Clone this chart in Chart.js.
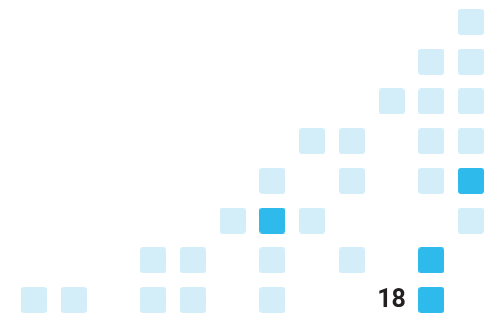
<!DOCTYPE html>
<html>
<head>
<meta charset="utf-8">
<script src="https://cdn.jsdelivr.net/npm/chart.js@4/dist/chart.umd.min.js"></script>
<style>
  html, body { margin: 0; padding: 0; background: #ffffff; }
  #wrap { width: 496px; height: 315px; position: relative; }
</style>
</head>
<body>
<div id="wrap"><canvas id="c" width="496" height="315"></canvas></div>
<script>
// Columns 1..12, rows 1 (bottom) .. 8 (top)
const columns = [1, 2, 3, 4, 5, 6, 7, 8, 9, 10, 11, 12];
const rows = [1, 2, 3, 4, 5, 6, 7, 8];
// Light squares: [column, row]
const lightCells = [
  [1, 1],
  [2, 1],
  [4, 1], [4, 2],
  [5, 1], [5, 2],
  [6, 3],
  [7, 1], [7, 2], [7, 4],
  [8, 3], [8, 5],
  [9, 2], [9, 4], [9, 5],
  [10, 6],
  [11, 4], [11, 5], [11, 6], [11, 7],
  [12, 3], [12, 5], [12, 6], [12, 7], [12, 8]
];
// Highlighted squares: [column, row]
const brightCells = [
  [7, 3],
  [11, 1], [11, 2],
  [12, 4]
];
// Text label
const labelText = "18";
const labelCell = [10, 1];

const lightColor = '#D3EEF9';
const brightColor = '#2EBAEB';

function squareStyle(color) {
  const s = 26, r = 3;
  const cv = document.createElement('canvas');
  cv.width = s; cv.height = s;
  const g = cv.getContext('2d');
  g.fillStyle = color;
  g.beginPath();
  g.moveTo(r, 0);
  g.lineTo(s - r, 0);
  g.quadraticCurveTo(s, 0, s, r);
  g.lineTo(s, s - r);
  g.quadraticCurveTo(s, s, s - r, s);
  g.lineTo(r, s);
  g.quadraticCurveTo(0, s, 0, s - r);
  g.lineTo(0, r);
  g.quadraticCurveTo(0, 0, r, 0);
  g.closePath();
  g.fill();
  return cv;
}

const labelPlugin = {
  id: 'cellLabel',
  afterDatasetsDraw(chart) {
    const ctx = chart.ctx;
    const x = chart.scales.x.getPixelForValue(labelCell[0]);
    const y = chart.scales.y.getPixelForValue(labelCell[1]);
    ctx.save();
    ctx.fillStyle = '#231F20';
    ctx.font = 'bold 25px Roboto, "Open Sans", sans-serif';
    ctx.textAlign = 'center';
    ctx.textBaseline = 'middle';
    ctx.fillText(labelText, x, y + 1);
    ctx.restore();
  }
};

new Chart(document.getElementById('c'), {
  type: 'scatter',
  data: {
    datasets: [
      {
        label: 'light',
        data: lightCells.map(c => ({ x: c[0], y: c[1] })),
        pointStyle: squareStyle(lightColor),
        clip: false
      },
      {
        label: 'bright',
        data: brightCells.map(c => ({ x: c[0], y: c[1] })),
        pointStyle: squareStyle(brightColor),
        clip: false
      }
    ]
  },
  options: {
    responsive: false,
    animation: false,
    layout: { padding: { left: 34, right: 25, top: 22, bottom: 15 } },
    plugins: { legend: { display: false }, tooltip: { enabled: false } },
    scales: {
      x: { type: 'linear', min: columns[0], max: columns[columns.length - 1], display: false },
      y: { type: 'linear', min: rows[0], max: rows[rows.length - 1], display: false }
    }
  },
  plugins: [labelPlugin]
});
</script>
</body>
</html>
